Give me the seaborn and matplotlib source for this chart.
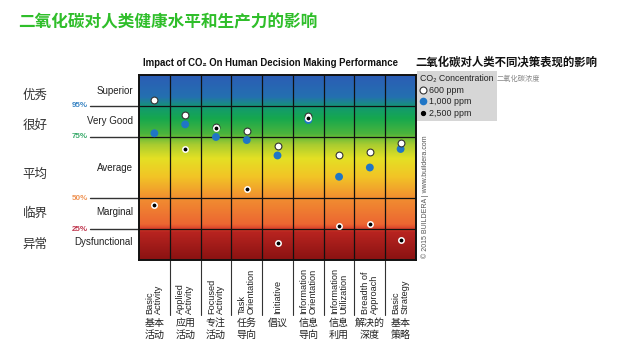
import numpy as np
import pandas as pd
import matplotlib
matplotlib.use("Agg")
import matplotlib.pyplot as plt
import matplotlib.transforms as mtransforms
from matplotlib.colors import LinearSegmentedColormap
from matplotlib.lines import Line2D
import seaborn as sns

# ---------------- data ----------------
categories_en = ["Basic\nActivity", "Applied\nActivity", "Focused\nActivity", "Task\nOrientation",
                 "Initiative", "Information\nOrientation", "Information\nUtilization",
                 "Breadth of\nApproach", "Basic\nStrategy"]
categories_cn = ["基本\n活动", "应用\n活动", "专注\n活动", "任务\n导向", "倡议",
                 "信息\n导向", "信息\n利用", "解决的\n深度", "基本\n策略"]
# performance level on the chart's band scale (0 = bottom, 6 = top)
ppm600 = [5.19, 4.69, 4.32, 4.19, 3.70, 4.67, 3.39, 3.50, 3.80]
ppm1000 = [4.11, 4.40, 3.99, 3.89, 3.39, 4.54, 2.70, 3.00, 3.60]
ppm2500 = [1.77, 3.60, 4.29, 2.31, 0.55, 4.60, 1.11, 1.17, 0.65]
series_labels = ["600 ppm", "1,000 ppm", "2,500 ppm"]

band_en = ["Superior", "Very Good", "Average", "Marginal", "Dysfunctional"]
band_cn = ["优秀", "很好", "平均", "临界", "异常"]
pct_labels = ["95%", "75%", "50%", "25%"]
pct_levels = [5, 4, 2, 1]

# ---------------- style ----------------
sns.set_theme(style="white")
plt.rcParams["font.family"] = ["Liberation Sans", "DejaVu Sans", "Noto Sans CJK SC"]
CJK = ["Noto Sans CJK SC", "DejaVu Sans"]

W, H = 623, 346
fig = plt.figure(figsize=(W / 100, H / 100), dpi=100)
L, R, T, B = 139, 416, 75, 260
ax = fig.add_axes([L / W, 1 - B / H, (R - L) / W, (B - T) / H])

# gradient background
stops = [(0.0, "#8a1212"), (0.9 / 6, "#b82420"), (1.0 / 6, "#d8402a"), (1.15 / 6, "#ec6632"),
         (2.0 / 6, "#f18e30"), (2.7 / 6, "#f2c426"), (3.3 / 6, "#e4e024"), (3.75 / 6, "#a8cc30"),
         (4.1 / 6, "#4cb43c"), (4.6 / 6, "#16a84e"), (4.95 / 6, "#139a6e"), (5.3 / 6, "#2470b0"),
         (1.0, "#2b5db5")]
cmap = LinearSegmentedColormap.from_list("band", stops)
grad = np.linspace(0, 1, 400).reshape(-1, 1)
ax.imshow(grad, cmap=cmap, origin="lower", aspect="auto", extent=[-0.5, 8.5, 0, 6], zorder=0)

ax.set_xlim(-0.5, 8.5)
ax.set_ylim(0, 6)

# grid lines
for xb in np.arange(0.5, 8.5, 1):
    ax.axvline(xb, color="#111111", lw=0.9, zorder=1)
for yb in pct_levels:
    ax.axhline(yb, color="#111111", lw=0.9, zorder=1)

# data frame
rows = []
for lab, vals in zip(series_labels, [ppm600, ppm1000, ppm2500]):
    for i, v in enumerate(vals):
        rows.append({"pos": i, "level": v, "conc": lab})
df = pd.DataFrame(rows)

sns.scatterplot(data=df[df.conc == "1,000 ppm"], x="pos", y="level", color="#1f76c6",
                s=32, edgecolor="none", ax=ax, zorder=3, legend=False)
sns.scatterplot(data=df[df.conc == "600 ppm"], x="pos", y="level", color="white",
                s=24, edgecolor="#333333", linewidth=0.8, ax=ax, zorder=4, legend=False)
sns.scatterplot(data=df[df.conc == "2,500 ppm"], x="pos", y="level", color="black",
                s=15, edgecolor="white", linewidth=1.1, ax=ax, zorder=5, legend=False)

ax.set_xlabel("")
ax.set_ylabel("")
ax.set_xticks([])
ax.set_yticks([])
for sp in ax.spines.values():
    sp.set_visible(True)
    sp.set_color("#111111")
    sp.set_linewidth(1.4)

# left labels
trans = mtransforms.blended_transform_factory(ax.transAxes, ax.transData)
en_y = [5.48, 4.51, 2.98, 1.56, 0.58]
cn_y = [5.35, 4.35, 2.76, 1.52, 0.49]
for lab, y in zip(band_en, en_y):
    ax.text(-0.022, y, lab, transform=trans, ha="right", va="center", fontsize=7, color="#222222")
for lab, y in zip(band_cn, cn_y):
    ax.text(-0.42, y, lab, transform=trans, ha="left", va="center", fontsize=9,
            color="#333333", family=CJK)
pct_colors = ["#3b86c4", "#3aab6c", "#ef9455", "#c0364e"]
for lab, y, c in zip(pct_labels, pct_levels, pct_colors):
    ax.text(-0.185, y, lab, transform=trans, ha="right", va="center", fontsize=5.8,
            color=c, fontweight="bold")
    ax.plot([-0.177, 0], [y, y], transform=trans, color="#333333", lw=1.0, clip_on=False)

# bottom labels
transb = mtransforms.blended_transform_factory(ax.transData, ax.transAxes)
for xb in np.arange(0.5, 8.5, 1):
    ax.plot([xb, xb], [0, -0.297], transform=transb, color="#333333", lw=0.8, clip_on=False)
for i, (en, cn) in enumerate(zip(categories_en, categories_cn)):
    ax.text(i, -0.292, en, transform=transb, rotation=90, ha="center", va="bottom",
            multialignment="left", fontsize=6.6, color="#222222", linespacing=1.0)
    ax.text(i, -0.315, cn, transform=transb, ha="center", va="top", fontsize=7.2,
            color="#222222", family=CJK, linespacing=1.25)

# titles
fig.text(18 / W, 1 - 22 / H, "二氧化碳对人类健康水平和生产力的影响", ha="left", va="center",
         fontsize=12, fontweight="bold", color="#2fbe2a", family=CJK)
fig.text(143 / W, 1 - 63 / H, "Impact of CO₂ On Human Decision Making Performance",
         ha="left", va="center", fontsize=6.9, fontweight="bold", color="#111111")
fig.text(415 / W, 1 - 62 / H, "二氧化碳对人类不同决策表现的影响", ha="left", va="center",
         fontsize=8.2, fontweight="bold", color="#111111", family=CJK)

# legend
handles = [
    Line2D([], [], marker="o", ls="", markerfacecolor="white", markeredgecolor="#333333",
           markeredgewidth=0.8, markersize=5),
    Line2D([], [], marker="o", ls="", markerfacecolor="#1f76c6", markeredgecolor="none",
           markersize=5.5),
    Line2D([], [], marker="o", ls="", markerfacecolor="black", markeredgecolor="black",
           markersize=2.8),
]
leg = ax.legend(handles, series_labels, title="CO₂ Concentration", loc="upper left",
                bbox_to_anchor=(417 / W, 1 - 71 / H), bbox_transform=fig.transFigure,
                fontsize=6.4, title_fontsize=6.3, frameon=True, fancybox=False,
                facecolor="#d6d6d6", edgecolor="none", framealpha=1, borderpad=0.35,
                labelspacing=0.3, handlelength=0.7, handletextpad=0.3, borderaxespad=0,
                alignment="left")
leg.get_title().set_color("#222222")
for t in leg.get_texts():
    t.set_color("#222222")
fig.text(497 / W, 1 - 79 / H, "二氧化碳浓度", ha="left", va="center", fontsize=5.2,
         color="#888888", family=CJK)

# copyright
fig.text(425 / W, 1 - 258 / H, "© 2015 BUILDERA | www.buildera.com", rotation=90,
         ha="center", va="bottom", fontsize=5, color="#555555")

fig.savefig("out.png", dpi=100)
